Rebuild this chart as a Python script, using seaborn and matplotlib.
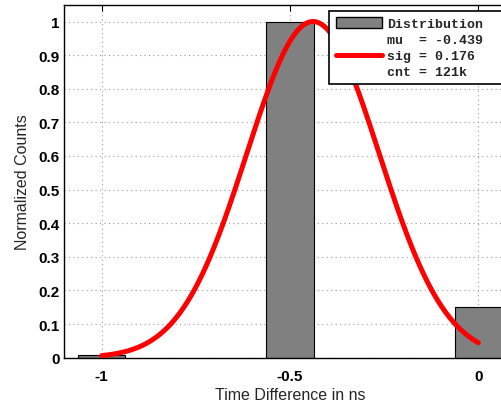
import numpy as np
import pandas as pd
import matplotlib
matplotlib.use("Agg")
import matplotlib.pyplot as plt
from matplotlib.patches import Patch
from matplotlib.lines import Line2D
import seaborn as sns

# Histogram of time differences (bin centres in ns, normalized counts)
bin_centers = [-1.0, -0.5, 0.0]
norm_counts = [0.008, 1.0, 0.152]

# Gaussian fit parameters
mu = -0.439
sig = 0.176
cnt_label = "121k"
fit_x_range = [-1.0, 0.0]

x_ticks = [-1, -0.5, 0]
x_tick_labels = ["-1", "-0.5", "0"]
y_ticks = [0, 0.1, 0.2, 0.3, 0.4, 0.5, 0.6, 0.7, 0.8, 0.9, 1.0]
y_tick_labels = ["0", "0.1", "0.2", "0.3", "0.4", "0.5", "0.6", "0.7", "0.8", "0.9", "1"]

sns.set_style("white")
plt.rcParams["font.family"] = ["Liberation Sans", "DejaVu Sans"]

fig = plt.figure(figsize=(5.01, 4.02), dpi=100)
ax = fig.add_axes([64 / 501, 43.3 / 402, 452 / 501, 353 / 402])

hist_df = pd.DataFrame({"t": bin_centers, "n": norm_counts})
sns.barplot(data=hist_df, x="t", y="n", native_scale=True, width=0.25,
            color="#808080", saturation=1, edgecolor="black", linewidth=0.8,
            errorbar=None, ax=ax, zorder=2)

fit_x = np.linspace(fit_x_range[0], fit_x_range[1], 300)
fit_y = np.exp(-(fit_x - mu) ** 2 / (2 * sig ** 2))
fit_df = pd.DataFrame({"t": fit_x, "g": fit_y})
sns.lineplot(data=fit_df, x="t", y="g", color="red", linewidth=3.6,
             ax=ax, zorder=3)

ax.set_xlim(-1.1, 0.1)
ax.set_ylim(0, 1.05)
ax.set_xticks(x_ticks)
ax.set_xticklabels(x_tick_labels)
ax.set_yticks(y_ticks)
ax.set_yticklabels(y_tick_labels)
for lab in ax.get_xticklabels() + ax.get_yticklabels():
    lab.set_fontweight("bold")
    lab.set_fontsize(11)

ax.tick_params(axis="both", direction="in", length=4, width=0.8,
               top=True, right=True, colors="black")
ax.tick_params(axis="x", pad=8)
ax.tick_params(axis="y", pad=3)

ax.grid(True, linestyle=(0, (1, 3)), color="#999999", linewidth=0.8, zorder=0)
ax.set_axisbelow(True)
for s in ax.spines.values():
    s.set_visible(True)
    s.set_color("black")
    s.set_linewidth(1.0)

ax.set_xlabel("Time Difference in ns", fontsize=11.5, labelpad=3)
ax.set_ylabel("Normalized Counts", fontsize=11.5, labelpad=6)

handles = [
    Patch(facecolor="#808080", edgecolor="black", linewidth=1.0),
    Line2D([0], [0], color="red", linewidth=3.6),
]
labels = [
    "Distribution",
    f"mu  = {mu}\nsig = {sig}\ncnt = {cnt_label}",
]
leg_x0 = (329.3 - 64) / 452
leg_top = (358.7 - 11.7) / 353
leg = ax.legend(handles, labels, loc="upper left", mode="expand",
                bbox_to_anchor=(leg_x0, 0.0, 0.45, leg_top),
                prop={"family": "Liberation Mono", "weight": "bold", "size": 9.5},
                frameon=True, fancybox=False, framealpha=1, edgecolor="black",
                borderpad=0.5, handlelength=3.5, handletextpad=0.4,
                labelspacing=0.25, borderaxespad=0, handleheight=0.9)
leg.get_frame().set_linewidth(1.2)
for t in leg.get_texts():
    t.set_linespacing(1.45)

fig.savefig("out.png", dpi=100)
